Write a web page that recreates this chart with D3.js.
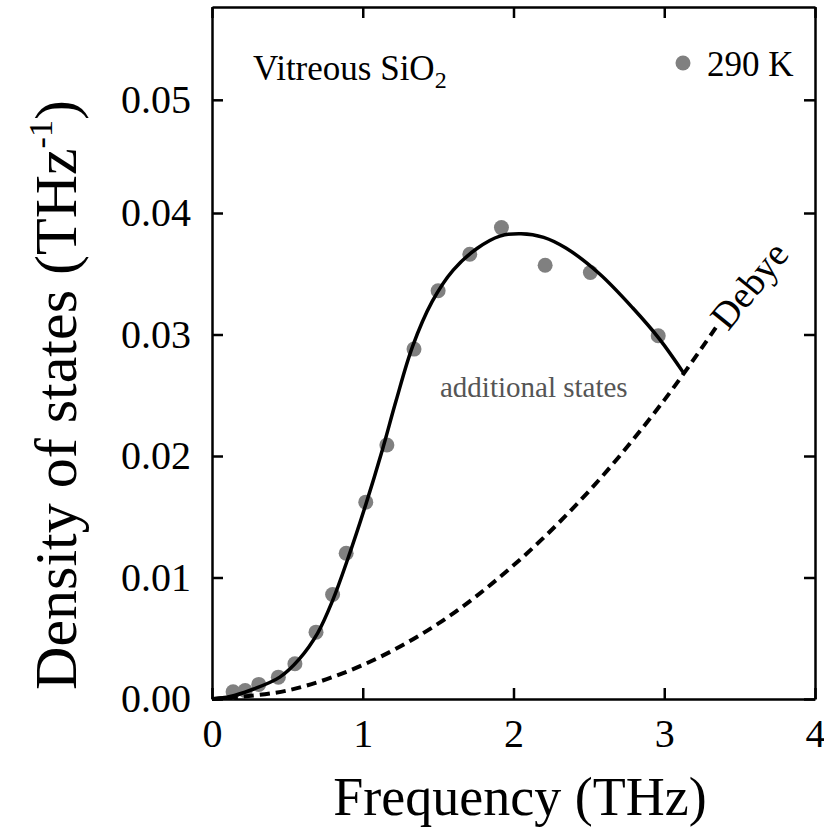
<!DOCTYPE html>
<html>
<head>
<meta charset="utf-8">
<script src="https://cdn.jsdelivr.net/npm/d3@7"></script>
<style>
  body { margin: 0; background: #fff; }
  svg text { font-family: "Liberation Serif", "Times New Roman", serif; }
</style>
</head>
<body>
<script>
// measured points, 290 K
var freqData = [0.14, 0.22, 0.31, 0.44, 0.55, 0.69, 0.80, 0.89, 1.02, 1.16, 1.34, 1.50, 1.71, 1.92, 2.21, 2.51, 2.96];
var dosData  = [0.0006, 0.0007, 0.0012, 0.0018, 0.0029, 0.0055, 0.0086, 0.0120, 0.0162, 0.0209, 0.0288, 0.0336, 0.0366, 0.0388, 0.0357, 0.0351, 0.0299];

// solid fit curve
var fitFreq = [0, 0.12, 0.25, 0.45, 0.58, 0.70, 0.80, 0.90, 1.02, 1.13, 1.22, 1.33, 1.46, 1.60, 1.76, 1.91, 2.05, 2.20, 2.35, 2.57, 2.79, 2.97, 3.13];
var fitDos  = [0, 0.0002, 0.0007, 0.0018, 0.0033, 0.0054, 0.0081, 0.0115, 0.0160, 0.0205, 0.0245, 0.0290, 0.0327, 0.0353, 0.0371, 0.0381, 0.0383, 0.0380, 0.0371, 0.0350, 0.0322, 0.0296, 0.0268];

// Debye (dashed)
var debyeFreq = [0, 0.5, 1.0, 1.5, 2.0, 2.5, 3.0, 3.36];
var debyeDos  = [0, 0.0007, 0.0028, 0.0062, 0.0110, 0.0171, 0.0246, 0.0309];

var xTicks = [0, 1, 2, 3, 4];
var yTicks = [0, 0.01, 0.02, 0.03, 0.04, 0.05];

var W = 824, H = 838;
var serif = "'Liberation Serif', 'Times New Roman', serif";

var svg = d3.select("body").append("svg")
  .attr("width", W)
  .attr("height", H);

var x = d3.scaleLinear().domain([0, 4]).range([212, 815]);
// top of the original frame is a bit squeezed
var y = d3.scaleLinear().domain([0, 0.04, 0.0582]).range([699, 213, 7]);

var points = freqData.map(function(f, i) { return {x: f, y: dosData[i]}; });
var fit = fitFreq.map(function(f, i) { return {x: f, y: fitDos[i]}; });
var debye = debyeFreq.map(function(f, i) { return {x: f, y: debyeDos[i]}; });

// axes, ticks pointing inward
var xAxis = d3.axisBottom(x).tickValues(xTicks).tickFormat(d3.format("d"))
  .tickSize(-11).tickSizeOuter(0).tickPadding(20);
var yAxis = d3.axisLeft(y).tickValues(yTicks).tickFormat(d3.format(".2f"))
  .tickSize(-11).tickSizeOuter(0).tickPadding(21);

svg.append("g")
  .attr("class", "x axis")
  .attr("transform", "translate(0," + y(0) + ")")
  .call(xAxis);

svg.append("g")
  .attr("class", "y axis")
  .attr("transform", "translate(" + x(0) + ",0)")
  .call(yAxis);

svg.append("g")
  .attr("transform", "translate(0," + y.range()[2] + ")")
  .call(d3.axisTop(x).tickValues(xTicks).tickFormat("").tickSize(-11).tickSizeOuter(0));

svg.append("g")
  .attr("transform", "translate(" + x(4) + ",0)")
  .call(d3.axisRight(y).tickValues(yTicks).tickFormat("").tickSize(-11).tickSizeOuter(0));

svg.selectAll(".domain").attr("stroke", "#000").attr("stroke-width", 2.5);
svg.selectAll(".tick line").attr("stroke", "#000").attr("stroke-width", 2.5);
svg.selectAll(".tick text")
  .attr("fill", "#000")
  .style("font-family", serif)
  .style("font-size", "40px");

// data points
svg.append("g").selectAll("circle")
  .data(points).enter()
  .append("circle")
  .attr("cx", function(d) { return x(d.x); })
  .attr("cy", function(d) { return y(d.y); })
  .attr("r", 7.5)
  .style("fill", "#808080");

var line = d3.line()
  .curve(d3.curveCatmullRom.alpha(0.5))
  .x(function(d) { return x(d.x); })
  .y(function(d) { return y(d.y); });

svg.append("path")
  .datum(debye)
  .style("fill", "none")
  .style("stroke", "#000")
  .style("stroke-width", 4)
  .style("stroke-dasharray", "10,6")
  .attr("d", line);

svg.append("path")
  .datum(fit)
  .style("fill", "none")
  .style("stroke", "#000")
  .style("stroke-width", 3.5)
  .attr("d", line);

// labels
var title = svg.append("text")
  .attr("x", 253).attr("y", 80)
  .style("font-family", serif)
  .style("font-size", "35px")
  .text("Vitreous SiO");
title.append("tspan").attr("dy", 8).style("font-size", "24px").text("2");

svg.append("circle")
  .attr("cx", 683).attr("cy", 63).attr("r", 7.5)
  .style("fill", "#808080");
svg.append("text")
  .attr("x", 707).attr("y", 76)
  .style("font-family", serif)
  .style("font-size", "35px")
  .text("290 K");

svg.append("text")
  .attr("x", 440).attr("y", 397)
  .style("font-family", serif)
  .style("font-size", "29px")
  .style("fill", "#555")
  .text("additional states");

svg.append("text")
  .attr("transform", "translate(728,332) rotate(-51)")
  .style("font-family", serif)
  .style("font-size", "38px")
  .text("Debye");

svg.append("text")
  .attr("x", 520).attr("y", 815)
  .attr("text-anchor", "middle")
  .style("font-family", serif)
  .style("font-size", "54px")
  .text("Frequency (THz)");

var ylab = svg.append("text")
  .attr("transform", "translate(76,395) rotate(-90)")
  .attr("text-anchor", "middle")
  .style("font-family", serif)
  .style("font-size", "60px")
  .text("Density of states (THz");
ylab.append("tspan").attr("dy", -24).style("font-size", "34px").text("-1");
ylab.append("tspan").attr("dy", 24).text(")");
</script>
</body>
</html>
